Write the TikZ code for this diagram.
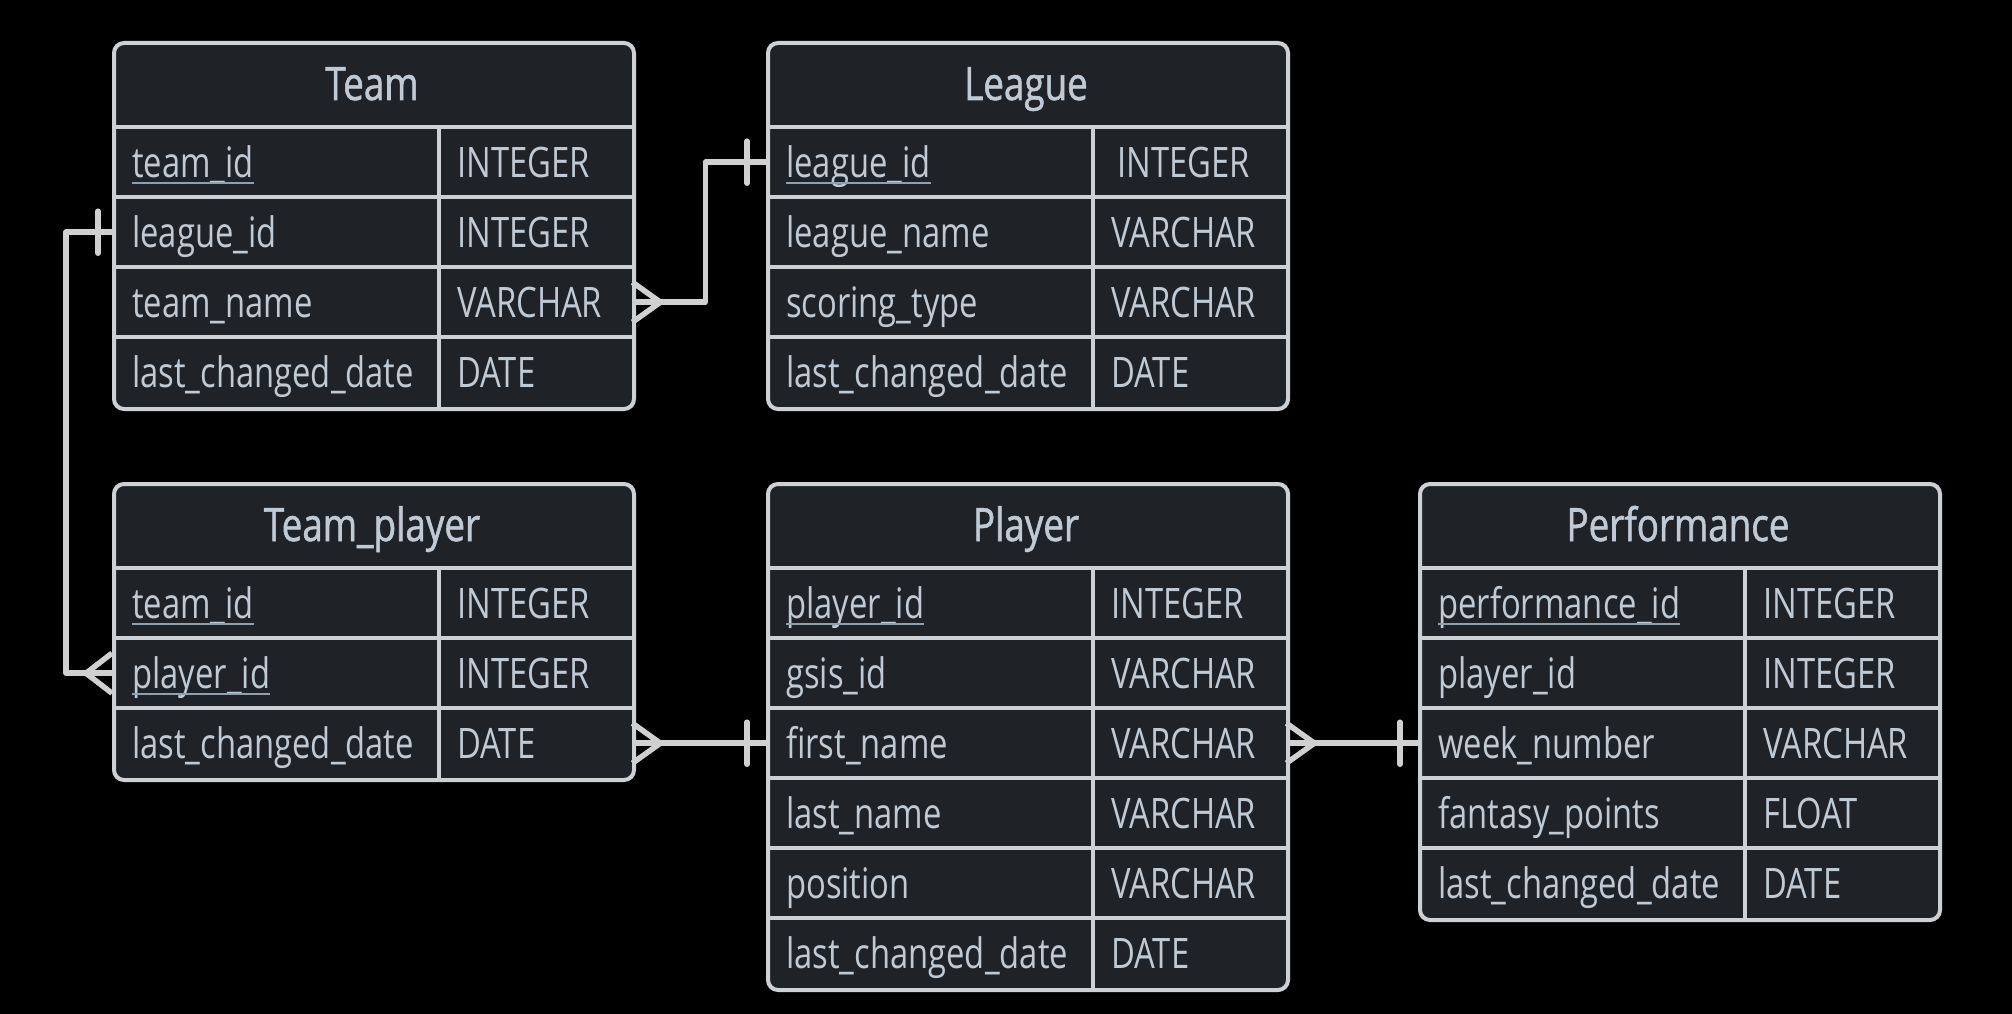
\documentclass[tikz,border=0pt]{standalone}
\usepackage{fontspec}
\setmainfont{Open Sans}[FakeStretch=0.78]
\newfontfamily\titlefont{Open Sans}[FakeStretch=0.8,FakeBold=1.2]
\usetikzlibrary{calc}
\definecolor{cellfill}{RGB}{31,35,40}
\definecolor{edgec}{RGB}{205,209,212}
\definecolor{txtc}{RGB}{192,202,212}
\definecolor{ulc}{RGB}{140,160,178}
\definecolor{linec}{RGB}{208,208,208}
\tikzset{
  tablebox/.style={draw=edgec, fill=cellfill, line width=4pt, rounded corners=10pt, inner sep=0pt, minimum width=520pt},
  rowbox/.style={inner sep=0pt, minimum width=520pt, minimum height=70pt},
  sepline/.style={draw=edgec, line width=4pt},
  celltext/.style={inner sep=0pt, text=txtc, font=\fontsize{42pt}{50pt}\selectfont},
  titletext/.style={inner sep=0pt, text=txtc, font=\titlefont\fontsize{46pt}{54pt}\selectfont},
  ulline/.style={draw=ulc, line width=2.5pt},
  conn/.style={draw=linec, line width=5.5pt, line join=round},
  barline/.style={draw=linec, line width=5.5pt, line cap=round},
}
% id, x, y, title, nrows, rows
\newcommand\ertable[6]{%
  \pgfmathsetmacro\erh{86+70*#5}
  \node[tablebox, minimum height=\erh pt, anchor=north west] (#1) at (#2,#3) {};
  \node[titletext, anchor=base] (#1-title) at (#2+260,#3+59) {#4};
  \draw[sepline] (#2+327,#3+86) -- (#2+327,#3+\erh);
  \foreach [count=\i] \n/\t/\k in {#6} {
    \pgfmathsetmacro\rt{#3+86+70*(\i-1)}
    \node[rowbox, anchor=north west] (#1-\i) at (#2,\rt) {};
    \draw[sepline] (#2,\rt) -- ++(520,0);
    \node[celltext, anchor=base west] (#1-\i-n) at (#2+20,\rt+50) {\n};
    \node[celltext, anchor=base west] (#1-\i-t) at (#2+345,\rt+50) {\t};
    \ifnum\k=1
      \draw[ulline] ([yshift=-6pt]#1-\i-n.base west) -- ([yshift=-6pt]#1-\i-n.base east);
    \fi
  }
}
\begin{document}
\begin{tikzpicture}[x=1pt,y=-1pt]
\path[use as bounding box, fill=black] (0,0) rectangle (2012,1014);

\ertable{team}{112}{41}{Team}{4}{team\_id/INTEGER/1, league\_id/INTEGER/0, team\_name/VARCHAR/0, last\_changed\_date/DATE/0}
\ertable{league}{766}{41}{League}{4}{league\_id/\hspace*{6pt}INTEGER/1, league\_name/VARCHAR/0, scoring\_type/VARCHAR/0, last\_changed\_date/DATE/0}
\ertable{tp}{112}{482}{Team\_player}{3}{team\_id/INTEGER/1, player\_id/INTEGER/1, last\_changed\_date/DATE/0}
\ertable{player}{766}{482}{Player}{6}{player\_id/INTEGER/1, gsis\_id/VARCHAR/0, first\_name/VARCHAR/0, last\_name/VARCHAR/0, position/VARCHAR/0, last\_changed\_date/DATE/0}
\ertable{perf}{1418}{482}{Performance}{5}{performance\_id/INTEGER/1, player\_id/INTEGER/0, week\_number/VARCHAR/0, fantasy\_points/FLOAT/0, last\_changed\_date/DATE/0}

% Team -> League
\draw[conn] (team-3.east) -- ++(73,0) |- (league-1.west);
\draw[conn] ([yshift=20pt]team-3.east) -- ([xshift=28pt]team-3.east) -- ([yshift=-20pt]team-3.east);
\draw[barline] ([xshift=-19pt,yshift=21pt]league-1.west) -- ([xshift=-19pt,yshift=-21pt]league-1.west);

% Team -> Team_player
\draw[conn] (team-2.west) -- ++(-46,0) |- (tp-2.west);
\draw[barline] ([xshift=-14pt,yshift=21pt]team-2.west) -- ([xshift=-14pt,yshift=-21pt]team-2.west);
\draw[conn] ([yshift=20pt]tp-2.west) -- ([xshift=-26pt]tp-2.west) -- ([yshift=-20pt]tp-2.west);

% Team_player -> Player
\draw[conn] (tp-3.east) -- (player-3.west);
\draw[conn] ([yshift=20pt]tp-3.east) -- ([xshift=28pt]tp-3.east) -- ([yshift=-20pt]tp-3.east);
\draw[barline] ([xshift=-19pt,yshift=21pt]player-3.west) -- ([xshift=-19pt,yshift=-21pt]player-3.west);

% Player -> Performance
\draw[conn] (player-3.east) -- (perf-3.west);
\draw[conn] ([yshift=20pt]player-3.east) -- ([xshift=28pt]player-3.east) -- ([yshift=-20pt]player-3.east);
\draw[barline] ([xshift=-18pt,yshift=21pt]perf-3.west) -- ([xshift=-18pt,yshift=-21pt]perf-3.west);
\end{tikzpicture}
\end{document}
